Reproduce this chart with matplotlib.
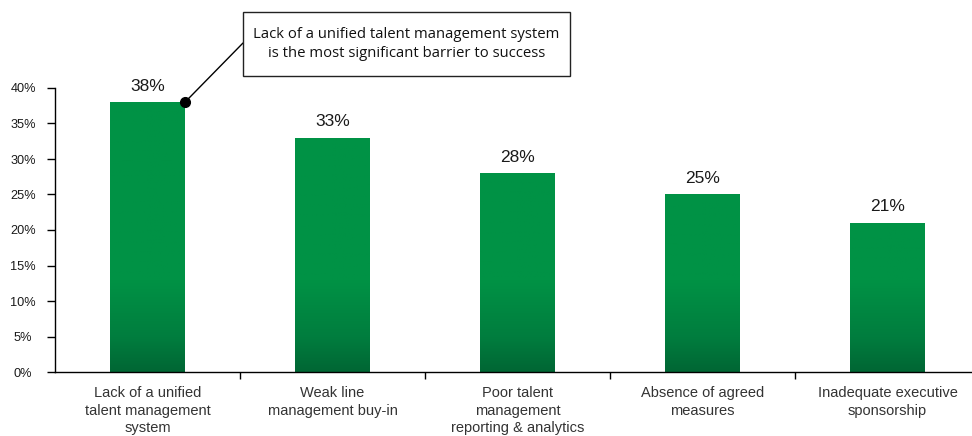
import numpy as np
import matplotlib
matplotlib.use("Agg")
import matplotlib.pyplot as plt
from matplotlib.colors import LinearSegmentedColormap
from matplotlib.patches import Rectangle

# barriers to talent management success, share of respondents (%)
categories = [
    "Lack of a unified\ntalent management\nsystem",
    "Weak line\nmanagement buy-in",
    "Poor talent\nmanagement\nreporting & analytics",
    "Absence of agreed\nmeasures",
    "Inadequate executive\nsponsorship",
]
values = [38, 33, 28, 25, 21]
y_ticks = [0, 5, 10, 15, 20, 25, 30, 35, 40]
callout = "Lack of a unified talent management system\nis the most significant barrier to success"

plt.rcParams["font.family"] = ["Liberation Sans", "DejaVu Sans"]

W, H = 972, 436
fig = plt.figure(figsize=(W / 100, H / 100), dpi=100)
ax = fig.add_axes([55 / W, 64 / H, 925 / W, 284 / H])

x = np.arange(len(categories))
width = 0.405

# green fill that darkens towards the baseline
green = LinearSegmentedColormap.from_list(
    "green", [(0.0, "#006634"), (0.12, "#007d3e"), (0.32, "#009245"), (1.0, "#009245")])
grad = np.linspace(0, 1, 256).reshape(-1, 1)

bars = ax.bar(x, values, width=width, color="none", edgecolor="none")
for b, v in zip(bars, values):
    x0 = b.get_x()
    im = ax.imshow(grad, cmap=green, origin="lower", aspect="auto",
                   extent=[x0, x0 + width, 0, 40], zorder=2)
    clip = Rectangle((x0, 0), width, v, transform=ax.transData)
    im.set_clip_path(clip)
    ax.text(b.get_x() + width / 2, v + 1.2, f"{v}%", ha="center", va="bottom",
            fontsize=12.5, color="#1a1a1a")

ax.set_xlim(-0.5, len(categories) - 0.5)
ax.set_ylim(0, 40)

ax.set_yticks(y_ticks)
ax.set_yticklabels([f"{t}%" for t in y_ticks], fontsize=9.2, color="#1a1a1a")
ax.tick_params(axis="y", direction="out", length=6, width=1, pad=17)
for lbl in ax.get_yticklabels():
    lbl.set_horizontalalignment("center")

# category boundaries get the ticks, labels sit centred under the bars
ax.set_xticks(np.arange(len(categories) - 1) + 0.5)
ax.set_xticklabels([])
ax.tick_params(axis="x", direction="out", length=5, width=1)
for i, name in enumerate(categories):
    ax.text(i, -2.0, name, ha="center", va="top", fontsize=10.5,
            color="#333333", linespacing=1.32)

for side in ["top", "right"]:
    ax.spines[side].set_visible(False)
ax.spines["left"].set_linewidth(1)
ax.spines["bottom"].set_linewidth(1)

# callout box pointing at the tallest bar
bx0, by0, bx1, by1 = 243, 12, 570, 76
fig.patches.append(Rectangle((bx0 / W, 1 - by1 / H), (bx1 - bx0) / W, (by1 - by0) / H,
                             transform=fig.transFigure, fc="white", ec="#222222", lw=1))
fig.text((bx0 + bx1) / 2 / W, 1 - (by0 + by1) / 2 / H, callout, ha="center", va="center",
         fontsize=10.7, family=["Open Sans", "DejaVu Sans"], linespacing=1.45,
         color="#111111")
ax.annotate("", xy=(width / 2, values[0]), xycoords="data",
            xytext=(bx0 / W, 1 - 43 / H), textcoords="figure fraction",
            arrowprops=dict(arrowstyle="-", color="black", lw=1, shrinkA=0, shrinkB=0),
            annotation_clip=False)
ax.plot(width / 2, values[0], "o", color="black", markersize=7, zorder=5, clip_on=False)

fig.savefig("out.png", dpi=100)
